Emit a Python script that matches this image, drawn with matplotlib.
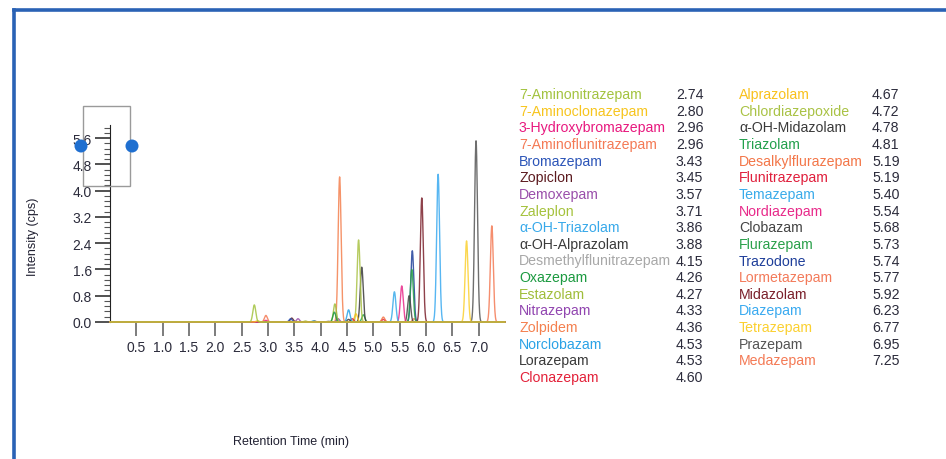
import numpy as np
import matplotlib
matplotlib.use("Agg")
from matplotlib import pyplot as plt
from matplotlib.lines import Line2D
from matplotlib.patches import Rectangle, Ellipse
from matplotlib.ticker import MultipleLocator, FormatStrFormatter

plt.rcParams['font.family'] = ['Liberation Sans', 'DejaVu Sans']

# compound table: name, retention time (min), peak height (cps), colour
compounds = [
    "7-Aminonitrazepam", "7-Aminoclonazepam", "3-Hydroxybromazepam", "7-Aminoflunitrazepam",
    "Bromazepam", "Zopiclon", "Demoxepam", "Zaleplon", "α-OH-Triazolam", "α-OH-Alprazolam",
    "Desmethylflunitrazepam", "Oxazepam", "Estazolam", "Nitrazepam", "Zolpidem", "Norclobazam",
    "Lorazepam", "Clonazepam",
    "Alprazolam", "Chlordiazepoxide", "α-OH-Midazolam", "Triazolam", "Desalkylflurazepam",
    "Flunitrazepam", "Temazepam", "Nordiazepam", "Clobazam", "Flurazepam", "Trazodone",
    "Lormetazepam", "Midazolam", "Diazepam", "Tetrazepam", "Prazepam", "Medazepam",
]
retention = [
    2.74, 2.80, 2.96, 2.96, 3.43, 3.45, 3.57, 3.71, 3.86, 3.88, 4.15, 4.26, 4.27, 4.33, 4.36,
    4.53, 4.53, 4.60,
    4.67, 4.72, 4.78, 4.81, 5.19, 5.19, 5.40, 5.54, 5.68, 5.73, 5.74, 5.77, 5.92, 6.23, 6.77,
    6.95, 7.25,
]
heights = [
    0.52, 0.04, 0.05, 0.20, 0.10, 0.12, 0.10, 0.03, 0.03, 0.03, 0.03, 0.30, 0.55, 0.10, 4.42,
    0.37, 0.08, 0.10,
    0.25, 2.50, 1.67, 0.22, 0.15, 0.08, 0.92, 1.10, 0.80, 1.60, 2.17, 0.10, 3.78, 4.50, 2.47,
    5.52, 2.93,
]
colors = [
    "#a3c33f", "#f7c51e", "#e8197f", "#f47a55", "#2c55b8", "#5c1a1f", "#9a4fab", "#a5c23c",
    "#38a9ea", "#3a3a3a", "#a8a8a8", "#1c9a40", "#a0bd3a", "#9145b0", "#f4804f", "#2aa2e6",
    "#3a3a3a", "#e3223a",
    "#f9c11c", "#a9c244", "#3a3a3a", "#22a04c", "#f37648", "#e01f3c", "#3aabea", "#e82a8a",
    "#444444", "#2aa04a", "#1f3f9a", "#f37a5a", "#7a1f2a", "#3aaaf0", "#fbd030", "#555555",
    "#f47a55",
]
peak_width = 0.028

fig = plt.figure(figsize=(9.46, 4.6), dpi=100)
W, H = 946, 460
ax = fig.add_axes([110 / W, 137 / H, 395 / W, 197 / H])

t = np.linspace(0, 7.5, 4001)
for rt, h, c in reversed(list(zip(retention, heights, colors))):
    ax.plot(t, h * np.exp(-0.5 * ((t - rt) / peak_width) ** 2), color=c, lw=1.0,
            alpha=0.85, zorder=3, clip_on=False)

ax.set_xlim(0, 7.5)
ax.set_ylim(0, 6.0)
ax.set_xticks(np.arange(0.5, 7.01, 0.5))
ax.set_xticklabels([f"{v:.1f}" for v in np.arange(0.5, 7.01, 0.5)])
ax.yaxis.set_major_locator(MultipleLocator(0.8))
ax.yaxis.set_minor_locator(MultipleLocator(0.16))
ax.yaxis.set_major_formatter(FormatStrFormatter("%.1f"))
for s in ("top", "right"):
    ax.spines[s].set_visible(False)
ax.spines["left"].set_color("#222222")
ax.spines["bottom"].set_color("#555555")
ax.spines["bottom"].set_linewidth(1.4)
ax.tick_params(axis="x", direction="out", length=10, width=1.2, color="#666666",
               labelsize=10, labelcolor="#2b2b3b", pad=3)
ax.tick_params(axis="y", which="major", direction="out", length=11, width=1.2, color="#333333",
               labelsize=10, labelcolor="#2b2b3b", pad=2)
ax.tick_params(axis="y", which="minor", direction="out", length=4, width=0.8, color="#555555")
ax.patch.set_alpha(0)

fig.text(291 / W, 1 - 442 / H, "Retention Time (min)", ha="center", va="center",
         fontsize=9, color="#222233")
fig.text(33 / W, 1 - 237 / H, "Intensity (cps)", ha="center", va="center",
         rotation=90, fontsize=9, color="#222233")

# two-column compound table
col_name_x = [519, 739]
col_time_x = [676, 872]
row_y0 = 95
row_dy = 16.65
n_first = 18
for i, (name, rt, c) in enumerate(zip(compounds, retention, colors)):
    col = 0 if i < n_first else 1
    row = i if i < n_first else i - n_first
    y = 1 - (row_y0 + row * row_dy) / H
    fig.text(col_name_x[col] / W, y, name, ha="left", va="center", fontsize=10.2, color=c)
    fig.text(col_time_x[col] / W, y, f"{rt:.2f}", ha="left", va="center", fontsize=10.2,
             color="#2b2b3b")

# blue frame of the screenshot
fig.add_artist(Line2D([14 / W, 14 / W], [0, 1 - 11 / H], transform=fig.transFigure,
                      color="#2a62b5", lw=2.6))
fig.add_artist(Line2D([14 / W, 1], [1 - 11 / H, 1 - 11 / H], transform=fig.transFigure,
                      color="#2a62b5", lw=2.6))

# selection box with handles
fig.add_artist(Rectangle((83 / W, 1 - 187 / H), 47 / W, 80 / H, transform=fig.transFigure,
                         fill=False, edgecolor="#9a9a9a", lw=1.0))
for cx in (81, 132):
    fig.add_artist(Ellipse((cx / W, 1 - 147 / H), 13 / W, 13 / H, transform=fig.transFigure,
                           facecolor="#1f6fd0", edgecolor="none"))

fig.savefig("out.png", dpi=100)
